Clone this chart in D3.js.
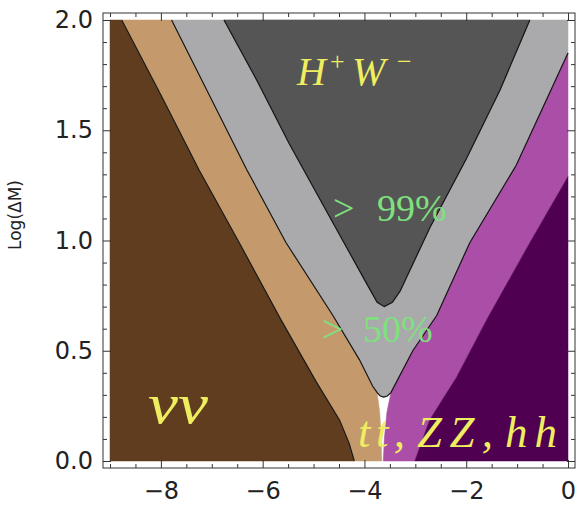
<!DOCTYPE html>
<html>
<head>
<meta charset="utf-8">
<script src="https://cdn.jsdelivr.net/npm/d3@7"></script>
<style>
  html, body { margin: 0; padding: 0; background: #fff; }
  svg { display: block; }
</style>
</head>
<body>
<svg id="chart"></svg>
<script>
// Region boundaries, as [x, Log(ΔM)] pairs
const nuTanEdge = [[-8.77, 2.0], [-8.0, 1.66], [-7.25, 1.32], [-6.46, 0.99], [-5.64, 0.64], [-4.95, 0.36], [-4.49, 0.186], [-4.3, 0.08], [-4.2, 0.0]];
const tanGreyEdge = [[-7.79, 2.0], [-7.05, 1.66], [-6.31, 1.32], [-5.54, 0.99], [-4.62, 0.66], [-4.10, 0.46], [-3.84, 0.34], [-3.75, 0.31]];
const greyTip = [[-3.69, 0.295], [-3.62, 0.29], [-3.55, 0.295]];
const greyMagentaEdge = [[-3.48, 0.31], [-3.05, 0.50], [-2.58, 0.66], [-1.93, 0.99], [-1.02, 1.34], [-0.5, 1.60], [0, 1.85]];
const tanGapEdge = [[-3.75, 0.31], [-3.70, 0.22], [-3.67, 0.10], [-3.66, 0]];
const magentaGapEdge = [[-3.48, 0.31], [-3.56, 0.22], [-3.61, 0.10], [-3.63, 0]];
const magentaPurpleEdge = [[0, 1.29], [-0.75, 0.99], [-1.60, 0.64], [-2.19, 0.38], [-2.72, 0.186], [-3.01, 0]];
const darkGreyEdge = [[-6.76, 2.0], [-6.1, 1.72], [-5.48, 1.44], [-4.69, 1.11], [-3.97, 0.81], [-3.75, 0.72], [-3.61, 0.70], [-3.45, 0.72], [-3.30, 0.77], [-2.71, 1.06], [-2.0, 1.37], [-1.34, 1.68], [-0.75, 2.0]];

// Ticks
const xMajorTicks = [-8, -6, -4, -2, 0];
const xMinorTicks = [-9, -8.5, -7.5, -7, -6.5, -5.5, -5, -4.5, -3.5, -3, -2.5, -1.5, -1, -0.5];
const yMajorTicks = [0, 0.5, 1, 1.5, 2];
const yMinorTicks = [0.1, 0.2, 0.3, 0.4, 0.6, 0.7, 0.8, 0.9, 1.1, 1.2, 1.3, 1.4, 1.6, 1.7, 1.8, 1.9];
const yLabel = 'Log(ΔM)';

const width = 578;
const height = 508;
const frame = { left: 103, right: 575, top: 13, bottom: 468 };
const pad = 7;

const svg = d3.select('#chart').attr('width', width).attr('height', height);

const x = d3.scaleLinear().domain([-9, 0]).range([frame.left + pad, frame.right - pad]);
const y = d3.scaleLinear().domain([0, 2]).range([frame.bottom - pad, frame.top + pad]);

const line = d3.line().x(d => x(d[0])).y(d => y(d[1]));
const rev = a => a.slice().reverse();

// Filled regions, back to front
const regions = [
  { fill: '#5f3d1e', pts: [[-9, 0], [-9, 2], ...nuTanEdge] },
  { fill: '#c49a6d', pts: [...nuTanEdge, ...rev(tanGapEdge), ...rev(tanGreyEdge)] },
  { fill: '#aaaaac', pts: [...tanGreyEdge, ...greyTip, ...greyMagentaEdge, [0, 2]] },
  { fill: '#555555', pts: darkGreyEdge },
  { fill: '#aa4ea7', pts: [...rev(greyMagentaEdge), ...magentaGapEdge, ...rev(magentaPurpleEdge)] },
  { fill: '#4f0050', pts: [...magentaPurpleEdge, [0, 0]] }
];

svg.append('g')
  .selectAll('path')
  .data(regions)
  .join('path')
  .attr('d', d => line(d.pts) + 'Z')
  .attr('fill', d => d.fill)
  .attr('stroke', d => d.fill)
  .attr('stroke-width', 0.5);

// Contour lines
const borders = [nuTanEdge, [...tanGreyEdge, ...greyTip, ...greyMagentaEdge], darkGreyEdge];
svg.append('g')
  .selectAll('path')
  .data(borders)
  .join('path')
  .attr('d', line)
  .attr('fill', 'none')
  .attr('stroke', '#151515')
  .attr('stroke-width', 1.2);

// Frame + inward ticks
svg.append('rect')
  .attr('x', frame.left).attr('y', frame.top)
  .attr('width', frame.right - frame.left).attr('height', frame.bottom - frame.top)
  .attr('fill', 'none').attr('stroke', '#333').attr('stroke-width', 1);

function styleAxis(g) {
  g.select('.domain').remove();
  g.selectAll('line').attr('stroke', '#333');
  g.attr('font-family', 'DejaVu Sans, sans-serif').attr('font-size', 24);
  g.selectAll('text').attr('fill', '#222');
}

const axes = [
  [d3.axisLeft(y).tickValues(yMajorTicks).tickFormat(d3.format('.1f')).tickSize(-8).tickPadding(10), `translate(${frame.left},0)`],
  [d3.axisLeft(y).tickValues(yMinorTicks).tickFormat('').tickSize(-4), `translate(${frame.left},0)`],
  [d3.axisRight(y).tickValues(yMajorTicks).tickFormat('').tickSize(-8), `translate(${frame.right},0)`],
  [d3.axisRight(y).tickValues(yMinorTicks).tickFormat('').tickSize(-4), `translate(${frame.right},0)`],
  [d3.axisBottom(x).tickValues(xMajorTicks).tickSize(-8).tickPadding(14), `translate(0,${frame.bottom})`],
  [d3.axisBottom(x).tickValues(xMinorTicks).tickFormat('').tickSize(-4), `translate(0,${frame.bottom})`],
  [d3.axisTop(x).tickValues(xMajorTicks).tickFormat('').tickSize(-8), `translate(0,${frame.top})`],
  [d3.axisTop(x).tickValues(xMinorTicks).tickFormat('').tickSize(-4), `translate(0,${frame.top})`]
];
axes.forEach(([axis, tr]) => {
  svg.append('g').attr('transform', tr).call(axis).call(styleAxis);
});

// Y axis title
svg.append('text')
  .attr('transform', 'translate(21,215) rotate(-90)')
  .attr('text-anchor', 'middle')
  .attr('font-family', 'DejaVu Sans, sans-serif')
  .attr('font-size', 17)
  .attr('fill', '#222')
  .text(yLabel);

// In-plot labels
const yellow = '#eeee60';
const green = '#7ee07e';
const serif = 'Liberation Serif, serif';

const hw = svg.append('text')
  .attr('font-family', serif).attr('font-size', 40).attr('fill', yellow);
hw.append('tspan').attr('x', 297).attr('y', 85).attr('font-style', 'italic').text('H');
hw.append('tspan').attr('x', 330).attr('y', 70).attr('font-size', 26).text('+');
hw.append('tspan').attr('x', 352).attr('y', 85).attr('font-style', 'italic').text('W');
hw.append('tspan').attr('x', 397).attr('y', 70).attr('font-size', 26).text('−');

[[333, 377, 221, '99%'], [322, 363, 342, '50%']].forEach(([gx, nx, by, t]) => {
  const lbl = svg.append('text')
    .attr('font-family', serif).attr('font-size', 38).attr('fill', green);
  lbl.append('tspan').attr('x', gx).attr('y', by).text('>');
  lbl.append('tspan').attr('x', nx).attr('y', by).text(t);
});

svg.append('text')
  .attr('x', 148).attr('y', 423)
  .attr('font-family', serif).attr('font-style', 'italic').attr('font-size', 58)
  .attr('fill', yellow)
  .attr('textLength', 60).attr('lengthAdjust', 'spacingAndGlyphs')
  .text('νν');

// tt, ZZ, hh: three pieces with math-style spacing
[[358, 47, 'tt,'], [417, 76, 'ZZ,'], [505, 52, 'hh']].forEach(([lx, len, t]) => {
  svg.append('text')
    .attr('x', lx).attr('y', 447)
    .attr('font-family', serif).attr('font-style', 'italic').attr('font-size', 45)
    .attr('fill', yellow)
    .attr('textLength', len).attr('lengthAdjust', 'spacing')
    .text(t);
});
</script>
</body>
</html>
